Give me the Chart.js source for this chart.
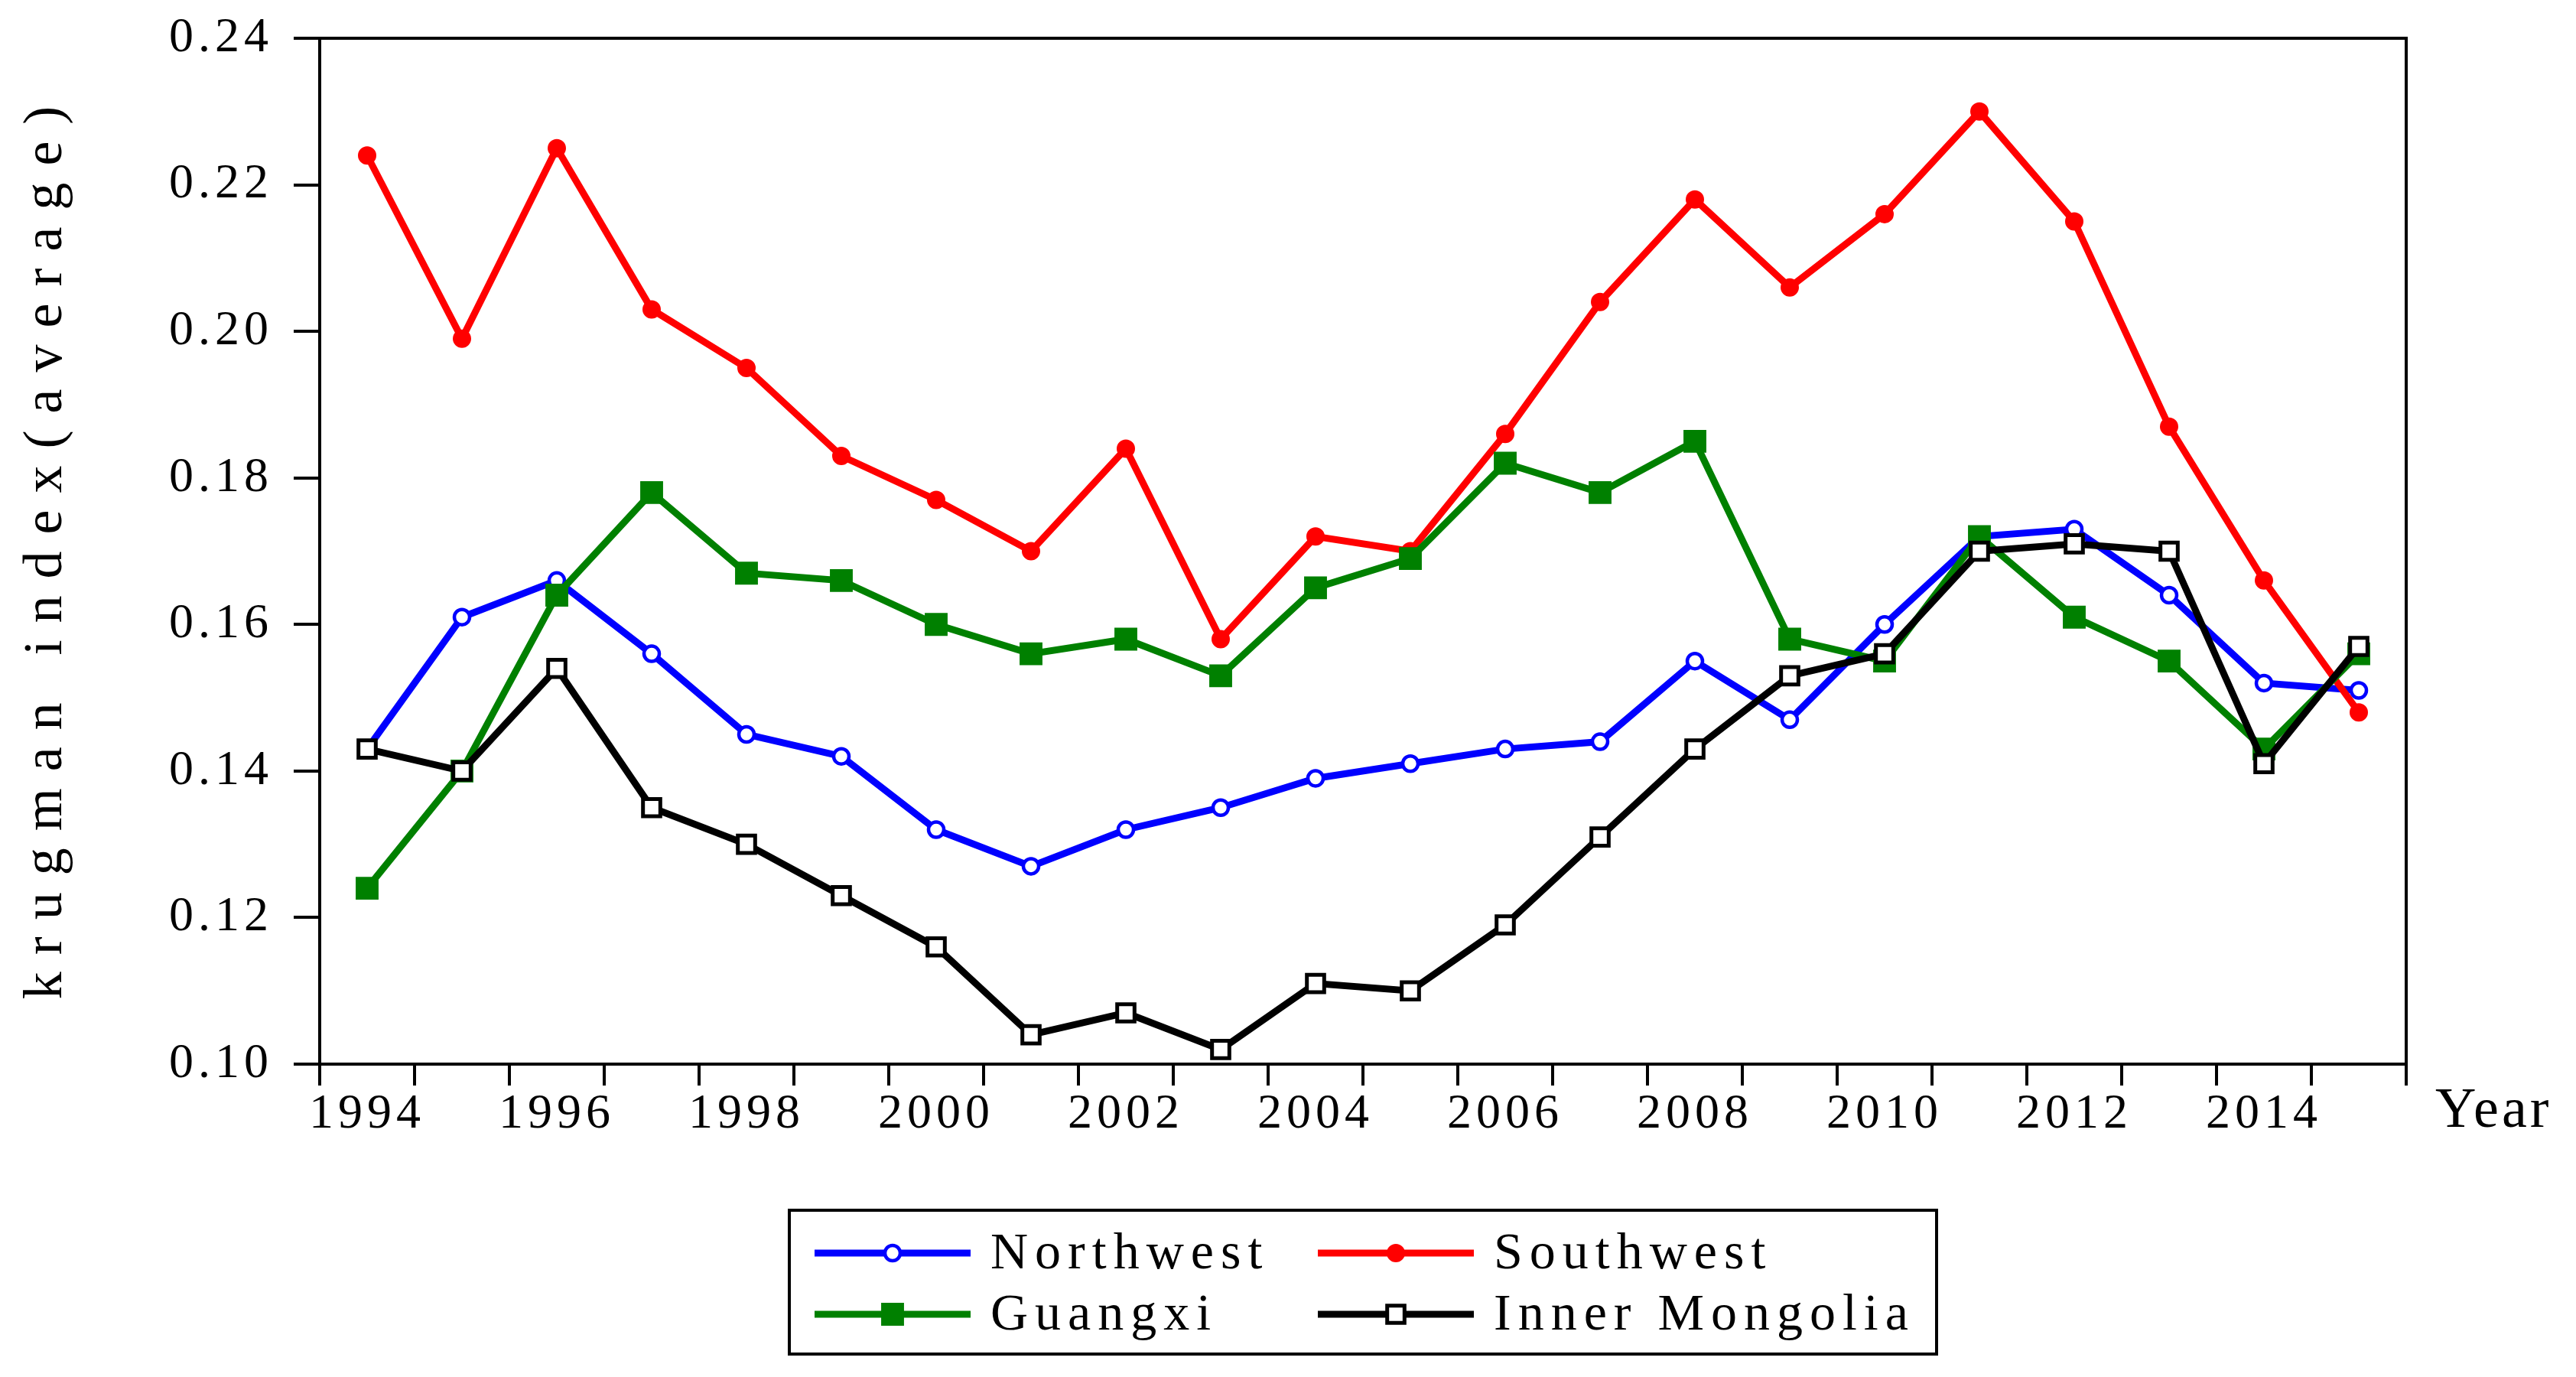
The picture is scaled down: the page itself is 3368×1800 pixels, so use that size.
<!DOCTYPE html>
<html lang="en">
<head>
    <meta charset="UTF-8">
    <title>Krugman index (average)</title>
    <script src="https://cdn.jsdelivr.net/npm/chart.js"></script>
    <style>
        html, body { margin: 0; padding: 0; background: #fff; }
        .container_1 { position: relative; width: 3368px; height: 1800px; }
    </style>
</head>
<body>
    <div class="container_1">
        <canvas id="krugmanChart"></canvas>
    </div>

    <script>
        const years = ['1994', '1995', '1996', '1997', '1998', '1999', '2000', '2001', '2002', '2003', '2004',
                       '2005', '2006', '2007', '2008', '2009', '2010', '2011', '2012', '2013', '2014', '2015'];
        const shownYears = ['1994', '1996', '1998', '2000', '2002', '2004', '2006', '2008', '2010', '2012', '2014'];

        const northwest = [0.143, 0.161, 0.166, 0.156, 0.145, 0.142, 0.132, 0.127, 0.132, 0.135, 0.139,
                           0.141, 0.143, 0.144, 0.155, 0.147, 0.160, 0.172, 0.173, 0.164, 0.152, 0.151];
        const southwest = [0.224, 0.199, 0.225, 0.203, 0.195, 0.183, 0.177, 0.170, 0.184, 0.158, 0.172,
                           0.170, 0.186, 0.204, 0.218, 0.206, 0.216, 0.230, 0.215, 0.187, 0.166, 0.148];
        const guangxi = [0.124, 0.140, 0.164, 0.178, 0.167, 0.166, 0.160, 0.156, 0.158, 0.153, 0.165,
                         0.169, 0.182, 0.178, 0.185, 0.158, 0.155, 0.172, 0.161, 0.155, 0.143, 0.156];
        const innerMongolia = [0.143, 0.140, 0.154, 0.135, 0.130, 0.123, 0.116, 0.104, 0.107, 0.102, 0.111,
                               0.110, 0.119, 0.131, 0.143, 0.153, 0.156, 0.170, 0.171, 0.170, 0.141, 0.157];

        const yMin = 0.10;
        const yMax = 0.24;
        const yStep = 0.02;

        const serif = "'Liberation Serif', 'Times New Roman', serif";

        // canvas text letter spacing (ticks use the state set before drawing)
        const spacingPlugin = {
            id: 'spacing',
            beforeDraw(chart) {
                chart.ctx.letterSpacing = '6px';
            }
        };

        // top and right sides of the plot frame
        const framePlugin = {
            id: 'frame',
            beforeDatasetsDraw(chart) {
                const { ctx, chartArea: a } = chart;
                ctx.save();
                ctx.strokeStyle = '#000';
                ctx.lineWidth = 4;
                ctx.beginPath();
                ctx.moveTo(a.left, a.top);
                ctx.lineTo(a.right, a.top);
                ctx.lineTo(a.right, a.bottom);
                ctx.stroke();
                ctx.restore();
            }
        };

        function drawMarker(ctx, ds, x, y) {
            const r = ds.pointRadius;
            ctx.save();
            ctx.fillStyle = ds.pointBackgroundColor;
            ctx.strokeStyle = ds.pointBorderColor;
            ctx.lineWidth = ds.pointBorderWidth;
            ctx.beginPath();
            if (ds.pointStyle === 'rect') {
                const s = r * Math.SQRT1_2;
                ctx.rect(x - s, y - s, 2 * s, 2 * s);
            } else {
                ctx.arc(x, y, r, 0, Math.PI * 2);
            }
            ctx.fill();
            if (ds.pointBorderWidth > 0) ctx.stroke();
            ctx.restore();
        }

        const labelsPlugin = {
            id: 'labels',
            afterDraw(chart) {
                const { ctx, chartArea: a } = chart;
                ctx.save();
                ctx.fillStyle = '#000';

                // y axis title
                ctx.save();
                ctx.font = '72px ' + serif;
                ctx.letterSpacing = '22px';
                ctx.translate(80, (a.top + a.bottom) / 2 + 2);
                ctx.rotate(-Math.PI / 2);
                ctx.textAlign = 'center';
                ctx.textBaseline = 'alphabetic';
                ctx.fillText('krugman index(average)', 11, 0);
                ctx.restore();

                // x axis title
                ctx.font = '74px ' + serif;
                ctx.letterSpacing = '4px';
                ctx.textAlign = 'left';
                ctx.textBaseline = 'alphabetic';
                ctx.fillText('Year', a.right + 38, a.bottom + 82);

                // legend box
                const box = { left: 1032, top: 1582, right: 2532, bottom: 1770 };
                ctx.lineWidth = 4;
                ctx.strokeStyle = '#000';
                ctx.strokeRect(box.left, box.top, box.right - box.left, box.bottom - box.top);

                const cols = [1065, 1723];
                const rows = [1638, 1718];
                const lineLen = 204;
                ctx.font = '68px ' + serif;
                ctx.letterSpacing = '9px';
                chart.data.datasets.forEach((ds, i) => {
                    const x = cols[i % 2];
                    const y = rows[Math.floor(i / 2)];
                    ctx.save();
                    ctx.strokeStyle = ds.borderColor;
                    ctx.lineWidth = ds.borderWidth;
                    ctx.beginPath();
                    ctx.moveTo(x, y);
                    ctx.lineTo(x + lineLen, y);
                    ctx.stroke();
                    ctx.restore();
                    drawMarker(ctx, ds, x + lineLen / 2, y);
                    ctx.fillStyle = '#000';
                    ctx.fillText(ds.label, x + 230, y + 20);
                });
                ctx.restore();
            }
        };

        document.addEventListener('DOMContentLoaded', () => {
            const ctx = document.getElementById('krugmanChart').getContext('2d');
            new Chart(ctx, {
                type: 'line',
                data: {
                    labels: years,
                    datasets: [
                        {
                            label: 'Northwest',
                            data: northwest,
                            borderColor: '#0000ff',
                            borderWidth: 9,
                            pointStyle: 'circle',
                            pointRadius: 10,
                            pointBorderWidth: 4.5,
                            pointBackgroundColor: '#ffffff',
                            pointBorderColor: '#0000ff',
                            order: 4
                        },
                        {
                            label: 'Southwest',
                            data: southwest,
                            borderColor: '#ff0000',
                            borderWidth: 9,
                            pointStyle: 'circle',
                            pointRadius: 11,
                            pointBorderWidth: 2,
                            pointBackgroundColor: '#ff0000',
                            pointBorderColor: '#ff0000',
                            order: 3
                        },
                        {
                            label: 'Guangxi',
                            data: guangxi,
                            borderColor: '#008000',
                            borderWidth: 9,
                            pointStyle: 'rect',
                            pointRadius: 19,
                            pointBorderWidth: 3,
                            pointBackgroundColor: '#008000',
                            pointBorderColor: '#008000',
                            order: 2
                        },
                        {
                            label: 'Inner Mongolia',
                            data: innerMongolia,
                            borderColor: '#000000',
                            borderWidth: 9,
                            pointStyle: 'rect',
                            pointRadius: 16,
                            pointBorderWidth: 5,
                            pointBackgroundColor: '#ffffff',
                            pointBorderColor: '#000000',
                            order: 1
                        }
                    ]
                },
                options: {
                    responsive: true,
                    maintainAspectRatio: false,
                    animation: false,
                    events: [],
                    elements: { line: { tension: 0 } },
                    layout: { padding: { top: 50, right: 222, bottom: 0, left: 0 } },
                    plugins: {
                        legend: { display: false },
                        tooltip: { enabled: false }
                    },
                    scales: {
                        x: {
                            offset: true,
                            grid: {
                                offset: true,
                                drawOnChartArea: false,
                                tickLength: 28,
                                color: '#000',
                                lineWidth: 4
                            },
                            border: { color: '#000', width: 4 },
                            ticks: {
                                autoSkip: false,
                                maxRotation: 0,
                                minRotation: 0,
                                padding: 0,
                                color: '#000',
                                font: { family: serif, size: 64 },
                                callback: function(value) {
                                    const year = this.getLabelForValue(value);
                                    return shownYears.includes(year) ? year : '';
                                }
                            },
                            afterFit: (scale) => {
                                scale.height = 409;
                                scale.paddingLeft = 0;
                                scale.paddingRight = 0;
                            }
                        },
                        y: {
                            min: yMin,
                            max: yMax,
                            grid: {
                                drawOnChartArea: false,
                                tickLength: 34,
                                color: '#000',
                                lineWidth: 4
                            },
                            border: { color: '#000', width: 4 },
                            ticks: {
                                stepSize: yStep,
                                padding: 27,
                                color: '#000',
                                font: { family: serif, size: 64 },
                                callback: (value) => value.toFixed(2)
                            },
                            afterFit: (scale) => {
                                scale.width = 418;
                                scale.paddingTop = 0;
                                scale.paddingBottom = 0;
                            }
                        }
                    }
                },
                plugins: [spacingPlugin, framePlugin, labelsPlugin]
            });
        });
    </script>
</body>
</html>
